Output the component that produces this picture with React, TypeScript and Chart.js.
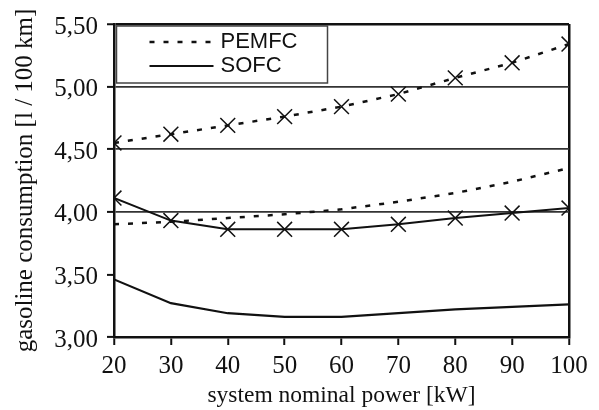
import React, { useEffect, useRef } from "react";
import { Chart, registerables } from "chart.js";

Chart.register(...registerables);

const powerKW = [20, 30, 40, 50, 60, 70, 80, 90, 100];
const pemfcMarked = [4.55, 4.62, 4.69, 4.76, 4.84, 4.94, 5.07, 5.19, 5.34];
const pemfcPlain = [3.9, 3.92, 3.95, 3.98, 4.02, 4.08, 4.15, 4.24, 4.35];
const sofcMarked = [4.11, 3.93, 3.86, 3.86, 3.86, 3.9, 3.95, 3.99, 4.03];
const sofcPlain = [3.46, 3.27, 3.19, 3.16, 3.16, 3.19, 3.22, 3.24, 3.26];
const legendLabels = ["PEMFC", "SOFC"];
const xTitle = "system nominal power [kW]";
const yTitle = "gasoline consumption [l / 100 km]";

const DASH = [5, 9];
const INK = "#111";
const SERIF = "'Liberation Serif', 'Times New Roman', serif";

const legendPlugin = {
  id: "boxLegend",
  afterDraw(chart: any) {
    const { ctx, chartArea } = chart;
    const x0 = chartArea.left + 2.5;
    const y0 = chartArea.top + 2;
    const w = 211;
    const h = 57;
    ctx.save();
    ctx.fillStyle = "#fff";
    ctx.fillRect(x0, y0, w, h);
    ctx.strokeStyle = "#444";
    ctx.lineWidth = 1.5;
    ctx.strokeRect(x0, y0, w, h);
    ctx.strokeStyle = INK;
    ctx.lineWidth = 2.5;
    ctx.setLineDash(DASH);
    ctx.beginPath();
    ctx.moveTo(x0 + 33, y0 + 16);
    ctx.lineTo(x0 + 97, y0 + 16);
    ctx.stroke();
    ctx.setLineDash([]);
    ctx.lineWidth = 2;
    ctx.beginPath();
    ctx.moveTo(x0 + 33, y0 + 40);
    ctx.lineTo(x0 + 97, y0 + 40);
    ctx.stroke();
    ctx.fillStyle = INK;
    ctx.font = "22px 'Liberation Sans', Arial, sans-serif";
    ctx.textBaseline = "middle";
    ctx.textAlign = "left";
    ctx.fillText(legendLabels[0], x0 + 104, y0 + 16);
    ctx.fillText(legendLabels[1], x0 + 104, y0 + 40);
    ctx.restore();
  },
};

export default function App() {
  const ref = useRef<HTMLCanvasElement | null>(null);
  useEffect(() => {
    if (!ref.current) return;
    const pts = (arr: number[]) => powerKW.map((x, i) => ({ x, y: arr[i] }));
    const chart = new Chart(ref.current, {
      type: "line",
      data: {
        datasets: [
          {
            label: legendLabels[0],
            data: pts(pemfcMarked),
            borderColor: INK,
            borderWidth: 2.5,
            borderDash: DASH,
            pointStyle: "crossRot",
            pointRadius: 10.5,
            pointBorderWidth: 1.5,
            pointBorderColor: INK,
            pointBackgroundColor: INK,
            tension: 0,
          },
          {
            label: legendLabels[0] + " ",
            data: pts(pemfcPlain),
            borderColor: INK,
            borderWidth: 2.5,
            borderDash: DASH,
            pointRadius: 0,
            tension: 0,
          },
          {
            label: legendLabels[1],
            data: pts(sofcMarked),
            borderColor: INK,
            borderWidth: 2,
            pointStyle: "crossRot",
            pointRadius: 10.5,
            pointBorderWidth: 1.5,
            pointBorderColor: INK,
            pointBackgroundColor: INK,
            tension: 0,
          },
          {
            label: legendLabels[1] + " ",
            data: pts(sofcPlain),
            borderColor: INK,
            borderWidth: 2.2,
            pointRadius: 0,
            tension: 0,
          },
        ],
      },
      options: {
        animation: false,
        responsive: false,
        maintainAspectRatio: false,
        layout: { padding: { top: 22, right: 30, left: 0, bottom: 0 } },
        plugins: { legend: { display: false }, tooltip: { enabled: false } },
        scales: {
          x: {
            type: "linear",
            min: 20,
            max: 100,
            afterFit: (s: any) => {
              s.height = 73;
            },
            ticks: {
              stepSize: 10,
              color: INK,
              padding: 6,
              font: { family: SERIF, size: 25 },
            },
            grid: {
              color: (c: any) => (c.tick && c.tick.value === 100 ? INK : "rgba(0,0,0,0)"),
              lineWidth: 2.5,
              tickColor: INK,
              tickLength: 8,
              tickWidth: 2,
              drawOnChartArea: true,
            },
            border: { color: INK, width: 2.5 },
            title: {
              display: true,
              text: xTitle,
              color: INK,
              padding: { top: 0, bottom: 0 },
              font: { family: SERIF, size: 23.5 },
            },
          },
          y: {
            min: 3,
            max: 5.5,
            afterFit: (s: any) => {
              s.width = 114;
            },
            ticks: {
              stepSize: 0.5,
              color: INK,
              padding: 9,
              labelOffset: 3,
              font: { family: SERIF, size: 25 },
              callback: (v: any) => Number(v).toFixed(2).replace(".", ","),
            },
            grid: {
              color: (c: any) => {
                const v = c.tick ? c.tick.value : 0;
                if (Math.abs(v - 3.5) < 1e-6) return "rgba(0,0,0,0)";
                return Math.abs(v - 5.5) < 1e-6 ? INK : "#333";
              },
              lineWidth: (c: any) => {
                const v = c.tick ? c.tick.value : 0;
                return Math.abs(v - 5.5) < 1e-6 ? 2.5 : 1.8;
              },
              tickColor: INK,
              tickLength: 7,
              tickWidth: 2,
            },
            border: { color: INK, width: 2.5 },
            title: {
              display: true,
              text: yTitle,
              color: INK,
              padding: { top: 10, bottom: 0 },
              font: { family: SERIF, size: 25 },
            },
          },
        },
      },
      plugins: [legendPlugin],
    });
    return () => chart.destroy();
  }, []);
  return (
    <div style={{ position: "absolute", left: 0, top: 0, width: 599, height: 410, background: "#fff" }}>
      <canvas ref={ref} width={599} height={410} />
    </div>
  );
}
